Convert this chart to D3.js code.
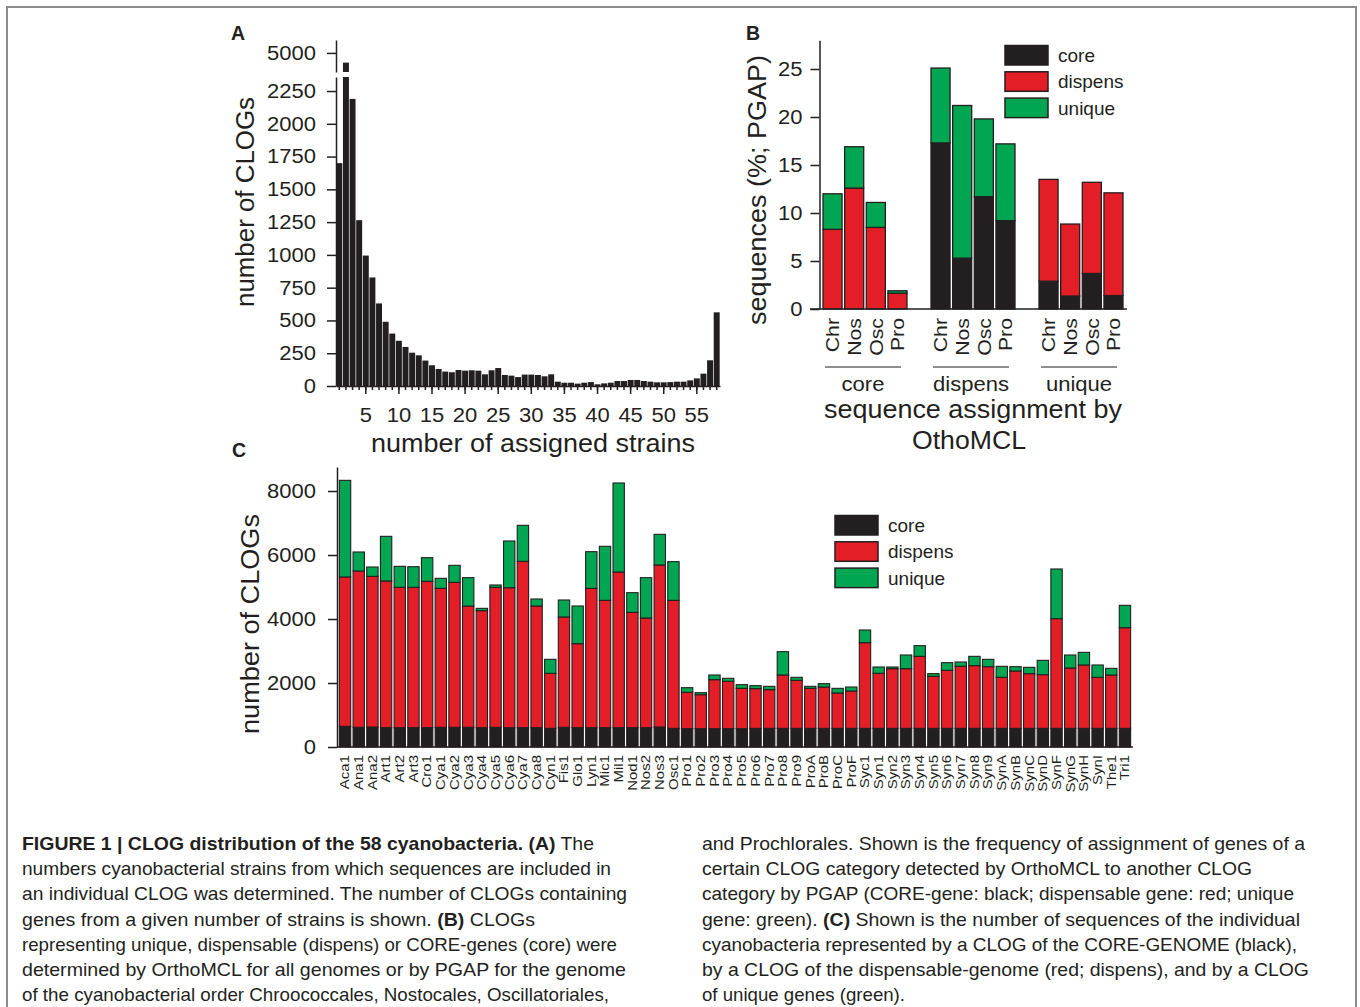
<!DOCTYPE html>
<html>
<head>
<meta charset="utf-8">
<script src="https://cdn.jsdelivr.net/npm/d3@7"></script>
<style>
  body { margin: 0; background: #fff; }
  svg text { font-family: "Liberation Sans", Arial, Helvetica, sans-serif; fill: #231f20; }
</style>
</head>
<body>
<svg id="fig" width="1360" height="1007"></svg>
<script>
// ---------- data ----------
// A: number of CLOGs per number of assigned strains
const strainCounts = [1,2,3,4,5,6,7,8,9,10,11,12,13,14,15,16,17,18,19,20,21,22,23,24,25,26,27,28,29,
  30,31,32,33,34,35,36,37,38,39,40,41,42,43,44,45,46,47,48,49,50,51,52,53,54,55,56,57,58];
const clogCounts = [1700,4400,2190,1265,995,828,630,490,400,345,298,254,234,194,158,130,110,105,122,117,
  120,117,89,120,137,84,79,68,87,87,84,74,89,33,25,25,18,25,30,13,20,25,38,38,46,46,38,33,28,28,
  30,33,33,43,58,94,196,562];
const lowTicksA = [0,250,500,750,1000,1250,1500,1750,2000,2250];
const highTicksA = [5000];
const strainLabelTicks = [5,10,15,20,25,30,35,40,45,50,55];

// B: sequences (%; PGAP) by OrthoMCL assignment and order
const groupsB = ["core", "dispens", "unique"];
const ordersB = ["Chr", "Nos", "Osc", "Pro"];
const coreB    = { core: [0, 0, 0, 0],          dispens: [17.3, 5.3, 11.7, 9.2], unique: [2.9, 1.35, 3.7, 1.4] };
const dispensB = { core: [8.3, 12.6, 8.5, 1.65], dispens: [0, 0, 0, 0],          unique: [10.6, 7.5, 9.5, 10.7] };
const uniqueB  = { core: [3.7, 4.3, 2.6, 0.25],  dispens: [7.8, 15.9, 8.1, 8.0],  unique: [0, 0, 0, 0] };
const ticksB = [0, 5, 10, 15, 20, 25];

// C: sequences per strain
const strainsC = ["Aca1","Ana1","Ana2","Art1","Art2","Art3","Cro1","Cya1","Cya2","Cya3","Cya4","Cya5",
  "Cya6","Cya7","Cya8","Cyn1","Fis1","Glo1","Lyn1","Mic1","Mil1","Nod1","Nos2","Nos3","Osc1","Pro1",
  "Pro2","Pro3","Pro4","Pro5","Pro6","Pro7","Pro8","Pro9","ProA","ProB","ProC","ProF","Syc1","Syn1",
  "Syn2","Syn3","Syn4","Syn5","Syn6","Syn7","Syn8","Syn9","SynA","SynB","SynC","SynD","SynF","SynG",
  "SynH","SynI","The1","Tri1"];
const coreC = [646,615,625,604,604,604,604,615,615,615,604,615,604,604,604,583,615,604,604,604,604,604,
  604,625,583,573,573,573,573,573,583,583,583,583,583,583,583,583,583,583,583,583,583,583,583,583,583,
  583,583,583,583,583,583,583,583,583,583,583];
const dispensC = [4667,4885,4708,4584,4386,4386,4573,4343,4531,3791,3656,4375,4375,5198,3802,1719,3448,
  2625,4354,3979,4865,3604,3427,5063,4000,1135,1062,1531,1479,1260,1240,1209,1667,1500,1250,1292,1105,
  1167,2677,1719,1865,1865,2250,1625,1813,1938,1959,1927,1594,1792,1709,1677,3427,1886,1980,1594,1667,3146];
const uniqueC = [3020,594,292,1395,656,645,740,313,531,886,73,73,1459,1125,219,438,531,1177,1146,1688,
  2781,615,1261,958,1209,146,63,146,94,115,94,104,729,94,63,104,145,125,396,198,52,427,334,84,239,135,
  291,230,344,135,198,448,1553,406,395,386,208,698];
const ticksC = [0, 2000, 4000, 6000, 8000];

const keys = ["core", "dispens", "unique"];
const colors = { core: "#231f20", dispens: "#e31e26", unique: "#00a651" };
const ink = "#231f20";

const captionLeft = [
  [["FIGURE 1 | CLOG distribution of the 58 cyanobacteria. (A)", true], [" The", false]],
  [["numbers cyanobacterial strains from which sequences are included in", false]],
  [["an individual CLOG was determined. The number of CLOGs containing", false]],
  [["genes from a given number of strains is shown. ", false], ["(B)", true], [" CLOGs", false]],
  [["representing unique, dispensable (dispens) or CORE-genes (core) were", false]],
  [["determined by OrthoMCL for all genomes or by PGAP for the genome", false]],
  [["of the cyanobacterial order Chroococcales, Nostocales, Oscillatoriales,", false]]
];
const captionLeftWidths = [572, 589, 605, 513, 595, 604, 587];
const captionRight = [
  [["and Prochlorales. Shown is the frequency of assignment of genes of a", false]],
  [["certain CLOG category detected by OrthoMCL to another CLOG", false]],
  [["category by PGAP (CORE-gene: black; dispensable gene: red; unique", false]],
  [["gene: green). ", false], ["(C)", true], [" Shown is the number of sequences of the individual", false]],
  [["cyanobacteria represented by a CLOG of the CORE-GENOME (black),", false]],
  [["by a CLOG of the dispensable-genome (red; dispens), and by a CLOG", false]],
  [["of unique genes (green).", false]]
];
const captionRightWidths = [603, 550, 592, 598, 595, 607, 203];

// ---------- helpers ----------
const svg = d3.select("#fig");
const fmt = d3.format("d");

function stretch(sel, k) {
  sel.each(function () {
    const w = this.getComputedTextLength();
    d3.select(this).attr("textLength", w * k).attr("lengthAdjust", "spacingAndGlyphs");
  });
}

function styleAxis(g, size) {
  g.attr("font-family", null).attr("font-size", size).attr("color", ink);
  g.selectAll("path, line").attr("stroke-width", 1.5);
}

// frame
svg.append("rect")
  .attr("x", 7).attr("y", 7).attr("width", 1349).attr("height", 1020)
  .attr("fill", "none").attr("stroke", "#8c8c8c").attr("stroke-width", 2);

// panel letters
svg.selectAll("text.panel")
  .data([["A", 231, 40], ["B", 746, 40], ["C", 232, 457]])
  .enter().append("text")
  .attr("class", "panel")
  .attr("x", d => d[1]).attr("y", d => d[2])
  .attr("font-size", 19.5).attr("font-weight", "bold")
  .text(d => d[0]);

// ---------- Panel A ----------
{
  const x = d3.scaleBand().domain(strainCounts).range([336, 720]).paddingInner(0.1).paddingOuter(0.05);
  const yLow = d3.scaleLinear().domain([0, 2357]).range([386, 77]);
  const yHigh = d3.scaleLinear().domain([3820, 5800]).range([72, 40]);
  const data = strainCounts.map((s, i) => ({ s, v: clogCounts[i] }));

  svg.append("g").selectAll("rect")
    .data(data).enter().append("rect")
    .attr("x", d => x(d.s))
    .attr("width", x.bandwidth())
    .attr("y", d => yLow(Math.min(d.v, 2357)))
    .attr("height", d => yLow(0) - yLow(Math.min(d.v, 2357)))
    .attr("fill", ink);

  svg.append("g").selectAll("rect")
    .data(data.filter(d => d.v > 3820)).enter().append("rect")
    .attr("x", d => x(d.s))
    .attr("width", x.bandwidth())
    .attr("y", d => yHigh(d.v))
    .attr("height", d => yHigh(3820) - yHigh(d.v))
    .attr("fill", ink);

  const gl = svg.append("g").attr("transform", "translate(336,0)")
    .call(d3.axisLeft(yLow).tickValues(lowTicksA).tickFormat(fmt).tickSize(9).tickPadding(11).tickSizeOuter(0));
  styleAxis(gl, 20);
  stretch(gl.selectAll("text"), 1.1);

  const gh = svg.append("g").attr("transform", "translate(336,0)")
    .call(d3.axisLeft(yHigh).tickValues(highTicksA).tickFormat(fmt).tickSize(9).tickPadding(11).tickSizeOuter(0));
  styleAxis(gh, 20);
  stretch(gh.selectAll("text"), 1.1);

  const gm = svg.append("g").attr("transform", "translate(0,386)")
    .call(d3.axisBottom(x).tickSize(4).tickFormat("").tickSizeOuter(0));
  styleAxis(gm, 20);

  const gb = svg.append("g").attr("transform", "translate(0,386)")
    .call(d3.axisBottom(x).tickValues(strainLabelTicks).tickSize(8).tickPadding(14));
  styleAxis(gb, 20);
  gb.select(".domain").remove();
  stretch(gb.selectAll("text"), 1.1);

  svg.append("text")
    .attr("transform", "translate(245,202) rotate(-90)")
    .attr("text-anchor", "middle").attr("dy", "0.35em")
    .attr("font-size", 26).attr("textLength", 210).attr("lengthAdjust", "spacingAndGlyphs")
    .text("number of CLOGs");

  svg.append("text")
    .attr("x", 533).attr("y", 452)
    .attr("text-anchor", "middle")
    .attr("font-size", 26).attr("textLength", 324).attr("lengthAdjust", "spacingAndGlyphs")
    .text("number of assigned strains");
}

// ---------- Panel B ----------
{
  const x0 = d3.scaleBand().domain(groupsB).range([811, 1135]).paddingInner(0.2222).paddingOuter(0.1111);
  const x1 = d3.scaleBand().domain(ordersB).range([0, x0.bandwidth()]).paddingInner(0.12);
  const y = d3.scaleLinear().domain([0, 28]).range([309, 40.2]);

  const rows = [];
  groupsB.forEach(g => ordersB.forEach((o, i) => {
    rows.push({ group: g, order: o, core: coreB[g][i], dispens: dispensB[g][i], unique: uniqueB[g][i] });
  }));
  const series = d3.stack().keys(keys)(rows);

  svg.append("g").selectAll("g")
    .data(series).enter().append("g")
    .attr("fill", d => colors[d.key])
    .selectAll("rect")
    .data(d => d.filter(p => p[1] - p[0] > 0)).enter().append("rect")
    .attr("x", d => x0(d.data.group) + x1(d.data.order))
    .attr("width", x1.bandwidth())
    .attr("y", d => y(d[1]))
    .attr("height", d => y(d[0]) - y(d[1]))
    .attr("stroke", ink).attr("stroke-width", 1.3);

  const ga = svg.append("g").attr("transform", "translate(819.5,0)")
    .call(d3.axisLeft(y).tickValues(ticksB).tickSize(9).tickPadding(8).tickSizeOuter(0));
  styleAxis(ga, 20);
  stretch(ga.selectAll("text"), 1.1);

  // x baseline
  svg.append("line")
    .attr("x1", 810).attr("x2", x0("unique") + x0.bandwidth() + 4)
    .attr("y1", y(0)).attr("y2", y(0))
    .attr("stroke", ink).attr("stroke-width", 1.5);

  // order labels
  const lab = svg.append("g").selectAll("text")
    .data(rows).enter().append("text")
    .attr("transform", d => `translate(${x0(d.group) + x1(d.order) + x1.bandwidth() / 2},318) rotate(-90)`)
    .attr("text-anchor", "end").attr("dy", "0.36em")
    .attr("font-size", 19)
    .text(d => d.order);
  stretch(lab, 1.12);

  // group brackets and labels
  const gg = svg.append("g").selectAll("g").data(groupsB).enter().append("g");
  gg.append("line")
    .attr("x1", d => x0(d) + 2).attr("x2", d => x0(d) + x0.bandwidth() - 6)
    .attr("y1", 367).attr("y2", 367)
    .attr("stroke", ink).attr("stroke-width", 1.2);
  const gt = gg.append("text")
    .attr("x", d => x0(d) + x0.bandwidth() / 2 - 2).attr("y", 391)
    .attr("text-anchor", "middle").attr("font-size", 21)
    .text(d => d);
  stretch(gt, 1.05);

  svg.append("text")
    .attr("x", 973).attr("y", 418).attr("text-anchor", "middle")
    .attr("font-size", 26).attr("textLength", 298).attr("lengthAdjust", "spacingAndGlyphs")
    .text("sequence assignment by");
  svg.append("text")
    .attr("x", 969).attr("y", 449).attr("text-anchor", "middle")
    .attr("font-size", 26).attr("textLength", 114).attr("lengthAdjust", "spacingAndGlyphs")
    .text("OthoMCL");

  svg.append("text")
    .attr("transform", "translate(757,190) rotate(-90)")
    .attr("text-anchor", "middle").attr("dy", "0.35em")
    .attr("font-size", 26).attr("textLength", 270).attr("lengthAdjust", "spacingAndGlyphs")
    .text("sequences (%; PGAP)");

  // legend
  const lg = svg.append("g").selectAll("g").data(keys).enter().append("g")
    .attr("transform", (d, i) => `translate(1005,${45.5 + i * 26.3})`);
  lg.append("rect").attr("width", 43).attr("height", 19.5)
    .attr("fill", d => colors[d]).attr("stroke", ink).attr("stroke-width", 1.5);
  const lt = lg.append("text").attr("x", 53).attr("y", 10).attr("dy", "0.35em")
    .attr("font-size", 19).text(d => d);
  stretch(lt, 1.0);
}

// ---------- Panel C ----------
{
  const x = d3.scaleBand().domain(strainsC).range([338, 1132]).paddingInner(0.17).paddingOuter(0.1);
  const y = d3.scaleLinear().domain([0, 8750]).range([747, 467]);
  const rows = strainsC.map((s, i) => ({ strain: s, core: coreC[i], dispens: dispensC[i], unique: uniqueC[i] }));
  const series = d3.stack().keys(keys)(rows);

  svg.append("g").selectAll("g")
    .data(series).enter().append("g")
    .attr("fill", d => colors[d.key])
    .selectAll("rect")
    .data(d => d).enter().append("rect")
    .attr("x", d => x(d.data.strain))
    .attr("width", x.bandwidth())
    .attr("y", d => y(d[1]))
    .attr("height", d => y(d[0]) - y(d[1]))
    .attr("stroke", ink).attr("stroke-width", 1.1);

  const ga = svg.append("g").attr("transform", "translate(337,0)")
    .call(d3.axisLeft(y).tickValues(ticksC).tickFormat(fmt).tickSize(9).tickPadding(12).tickSizeOuter(0));
  styleAxis(ga, 20);
  stretch(ga.selectAll("text"), 1.1);

  const gx = svg.append("g").attr("transform", "translate(0,747)")
    .call(d3.axisBottom(x).tickSize(0).tickSizeOuter(0));
  styleAxis(gx, 12);
  gx.select(".domain").attr("d", `M337,0H1133`);
  const xt = gx.selectAll("text")
    .attr("y", 0).attr("dy", "0.36em")
    .attr("transform", "translate(0,8) rotate(-90)")
    .attr("text-anchor", "end");
  stretch(xt, 1.25);

  svg.append("text")
    .attr("transform", "translate(250,624) rotate(-90)")
    .attr("text-anchor", "middle").attr("dy", "0.35em")
    .attr("font-size", 26).attr("textLength", 220).attr("lengthAdjust", "spacingAndGlyphs")
    .text("number of CLOGs");

  const lg = svg.append("g").selectAll("g").data(keys).enter().append("g")
    .attr("transform", (d, i) => `translate(835,${515.5 + i * 26.3})`);
  lg.append("rect").attr("width", 43).attr("height", 19.5)
    .attr("fill", d => colors[d]).attr("stroke", ink).attr("stroke-width", 1.5);
  const lt = lg.append("text").attr("x", 53).attr("y", 10).attr("dy", "0.35em")
    .attr("font-size", 19).text(d => d);
  stretch(lt, 1.0);
}

// ---------- caption ----------
function caption(lines, widths, x0) {
  lines.forEach((parts, i) => {
    const t = svg.append("text")
      .attr("x", x0).attr("y", 850 + i * 25.2)
      .attr("font-size", 18.5)
      .attr("textLength", widths[i]).attr("lengthAdjust", "spacingAndGlyphs");
    parts.forEach(([s, b]) => {
      t.append("tspan").attr("font-weight", b ? "bold" : "normal").text(s);
    });
  });
}
caption(captionLeft, captionLeftWidths, 22);
caption(captionRight, captionRightWidths, 702);
</script>
</body>
</html>
